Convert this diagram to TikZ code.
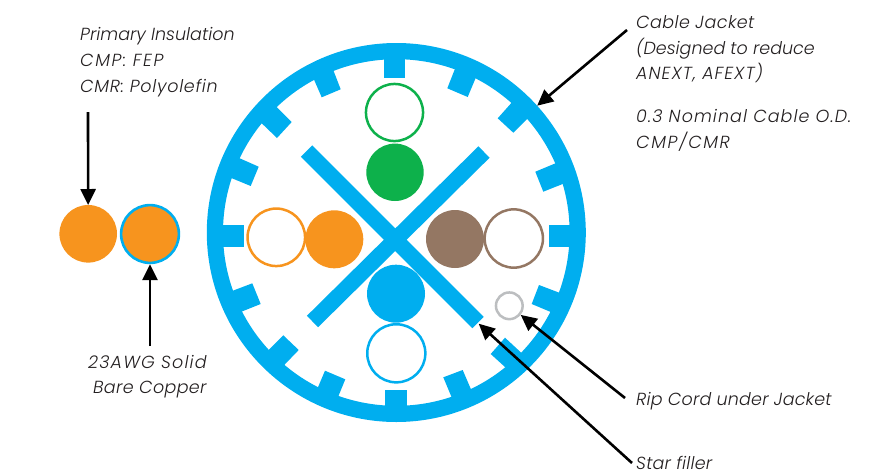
\documentclass[tikz,border=0pt]{standalone}
\usepackage{fontspec}
\setmainfont{Poppins Light}[ItalicFont={Poppins Light Italic}]
\usetikzlibrary{arrows.meta}
\definecolor{cblue}{HTML}{00AEEF}
\definecolor{corange}{HTML}{F7941E}
\definecolor{cgreen}{HTML}{0DB14B}
\definecolor{cbrown}{HTML}{947763}
\definecolor{cgrey}{HTML}{BCBEC0}
\definecolor{ctext}{HTML}{231F20}
\newcommand{\lsp}[2]{{\addfontfeature{LetterSpace=#1}#2}}
\tikzset{
  solidwire/.style={circle,inner sep=0pt,outer sep=0pt,fill=#1,draw=none},
  ringwire/.style={circle,inner sep=0pt,draw=#1,fill=white,line width=2.5pt},
  tab/.style={fill=cblue,draw=none},
  arm/.style={draw=cblue,line width=16pt},
  callout/.style={draw=black,line width=2.6pt,-{Triangle[length=16pt,width=15pt]},shorten >=0pt},
  note/.style={anchor=base west,inner sep=0pt,font=\fontsize{17.5}{25}\selectfont\itshape,text=ctext,align=left},
}
\begin{document}
\begin{tikzpicture}[x=1pt,y=-1pt]
\useasboundingbox (0,0) rectangle (873,472);
% jacket
\node[circle,inner sep=0pt,draw=cblue,line width=16.2pt,minimum size=362.8pt] (jacket) at (396.3,232.5) {};
% tabs
\fill[tab] (384,55) -- (405,55) -- (405,77.7) -- (384,77.7) -- cycle;
\fill[tab] (312,75) -- (321.7,97.3) -- (340.7,89.3) -- (331.3,65) -- cycle;
\fill[tab] (258.8,120.5) -- (277,138) -- (291.7,122) -- (273.8,104.2) -- cycle;
\fill[tab] (236.1,156.7) -- (228.1,176.7) -- (250.7,186) -- (258.7,166.7) -- cycle;
\fill[tab] (220,225) -- (244,225) -- (244,247) -- (220,247) -- cycle;
\fill[tab] (229.4,292) -- (252.3,283.3) -- (260.7,304) -- (238.1,313) -- cycle;
\fill[tab] (265.8,352.8) -- (283.3,335.3) -- (298.7,350) -- (281.2,368.2) -- cycle;
\fill[tab] (325,370.7) -- (345.3,379.3) -- (336.3,401.3) -- (316,391.9) -- cycle;
\fill[tab] (385,390) -- (407,390) -- (407,410) -- (385,410) -- cycle;
\fill[tab] (443.3,377.3) -- (462.7,370) -- (472.7,393.3) -- (453.3,401.3) -- cycle;
\fill[tab] (490.7,354) -- (505,337.7) -- (523.5,354.8) -- (508.5,370.2) -- cycle;
\fill[tab] (539,285) -- (531.7,304) -- (553.9,313.3) -- (561.9,293.7) -- cycle;
\fill[tab] (549,225) -- (572,225) -- (572,247) -- (549,247) -- cycle;
\fill[tab] (557.9,162.3) -- (535.3,171.7) -- (543.3,191.7) -- (565.9,182.7) -- cycle;
\fill[tab] (514.2,99.8) -- (497.7,118.3) -- (513.3,132.7) -- (530.2,115.8) -- cycle;
\fill[tab] (457,63.7) -- (447.3,88.3) -- (467.7,97) -- (477.3,74.1) -- cycle;
% star filler
\draw[arm] (306.5,151) -- (478,322.5);
\draw[arm] (484,152) -- (312.5,321.5);
% wires in cable
\node[ringwire=cgreen,minimum size=57.1pt] (gr) at (394.5,112.5) {};
\node[solidwire=cgreen,minimum size=57.4pt] (gs) at (395,172.3) {};
\node[ringwire=corange,minimum size=57.5pt] (or) at (276.3,237.3) {};
\node[solidwire=corange,minimum size=58pt] (os) at (334.3,239.3) {};
\node[solidwire=cbrown,minimum size=58pt] (bs) at (455,239) {};
\node[ringwire=cbrown,minimum size=58.3pt] (br) at (513.8,238.5) {};
\node[solidwire=cblue,minimum size=58pt] (us) at (396,293.7) {};
\node[ringwire=cblue,minimum size=58.1pt] (ur) at (396.3,353.3) {};
\node[ringwire=cgrey,minimum size=26.7pt] (rip) at (509.3,305.8) {};
% loose conductors
\node[solidwire=corange,minimum size=57.6pt] (cond) at (88.2,233.8) {};
\node[circle,inner sep=0pt,draw=cblue,fill=corange,line width=2.6pt,minimum size=57.8pt] (ins) at (150,234) {};
% labels
\node[note] (lprim) at (80,40) {Primary Insulation};
\node[note] (lcmp) at (80,66) {\lsp{9}{CMP: FEP}};
\node[note] (lcmr) at (80,92) {\lsp{4}{CMR: Polyolefin}};
\node[note] (lawg) at (88,368) {\lsp{6.5}{23AWG Solid}};
\node[note] (lbare) at (93,393) {\lsp{2}{Bare Copper}};
\node[note] (ljack) at (636,28) {\lsp{2.4}{Cable Jacket}};
\node[note] (ldes) at (636,54) {(Designed to reduce};
\node[note] (lane) at (636,79) {\lsp{6}{ANEXT, AFEXT)}};
\node[note] (lnom) at (636,122) {\lsp{6}{0.3 Nominal Cable O.D.}};
\node[note] (lcc) at (636,148) {\lsp{9}{CMP/CMR}};
\node[note] (lrip) at (636,405) {\lsp{1}{Rip Cord under Jacket}};
\node[note] (lstar) at (636,469) {\lsp{1}{Star filler}};
% connector ends
\coordinate (t1) at (88,112);
\coordinate (t2) at (150,346);
\coordinate (t3) at (627,30);
\coordinate (t4) at (625,398);
\coordinate (t5) at (632,463);
\coordinate (startip) at (478.7,323.7);
\draw[callout] (t1) -- (cond);
\draw[callout] (t2) -- (ins);
\draw[callout] (t3) -- (jacket.42.5);
\draw[callout] (t4) -- (rip);
\draw[callout] (t5) -- (startip);
\end{tikzpicture}
\end{document}
